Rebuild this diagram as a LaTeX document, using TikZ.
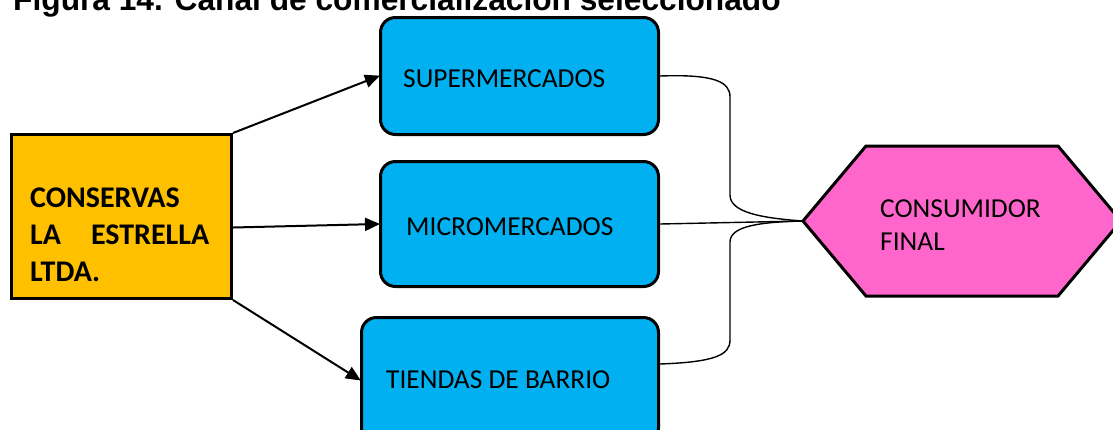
\documentclass[tikz,border=0pt]{standalone}
\usepackage{fontspec}
\setmainfont{Carlito}
\newfontfamily\titlefont{Liberation Sans}
\usetikzlibrary{arrows.meta}
\definecolor{orangebox}{HTML}{FFC000}
\definecolor{bluebox}{HTML}{00B0F0}
\definecolor{pinkbox}{HTML}{FF66CC}
\begin{document}
\begin{tikzpicture}[x=1pt,y=-1pt,
  box/.style={draw=black,line width=3pt,inner sep=0pt},
  chan/.style={box,fill=bluebox,rounded corners=15pt,minimum width=278pt,anchor=north west},
  lbl/.style={anchor=base west,inner sep=0pt,font=\fontsize{27.4}{33}\selectfont},
  blbl/.style={anchor=base west,inner sep=0pt,font=\bfseries\fontsize{30}{37}\selectfont},
  arr/.style={line width=2pt,-{Triangle[length=15pt,width=13pt]},shorten >=-1pt},
  link/.style={line width=1.4pt}]
\useasboundingbox (0,0) rectangle (1113,429);
% title (cut off by the page edge)
\node[anchor=base west,inner sep=0pt,font=\titlefont\bfseries\fontsize{31.7}{38}\selectfont] (title) at (13,10) {Figura 14. Canal de comercialización seleccionado};
% company
\node[box,fill=orangebox,minimum width=220pt,minimum height=164pt,anchor=north west] (org) at (10,133) {};
\node[blbl] (t1) at (30,207) {CONSERVAS};
\node[blbl] (t2) at (30,244) {\makebox[179pt][l]{LA\hfill ESTRELLA}};
\node[blbl] (t3) at (30,281) {LTDA.};
% channels
\node[chan,minimum height=117pt] (sup) at (379,16) {};
\node[chan,minimum height=125pt] (mic) at (379,160) {};
\node[chan,minimum width=297pt,minimum height=125pt] (tie) at (360,316) {};
\node[lbl] (supt) at (403,87) {SUPERMERCADOS};
\node[lbl] (mict) at (406,235) {MICROMERCADOS};
\node[lbl] (tiet) at (386,388) {TIENDAS DE BARRIO};
% final consumer
\coordinate (cons) at (803,221);
\draw[line width=3pt,fill=pinkbox,line join=miter] (cons) -- (866,146) -- (1058,146) -- (1121,221) -- (1058,296) -- (866,296) -- cycle;
\node[anchor=base west,inner sep=0pt,align=left,font=\fontsize{27.4}{33}\selectfont] (c1) at (880,217) {CONSUMIDOR};
\node[anchor=base west,inner sep=0pt,font=\fontsize{27.4}{33}\selectfont] (c2) at (880,250) {FINAL};
% arrows
\draw[arr] (org.north east) -- (sup.west);
\draw[arr] ([yshift=-11pt]org.east) -- (mic.west);
\draw[arr] (org.south east) -- (tie.west);
% links to consumer
\draw[link] (sup.east) .. controls (715,74) and (730,82) .. (730,97) -- (730,195) .. controls (730,212) and (760,218) .. (cons);
\draw[link] (mic.east) -- (cons);
\draw[link] ([yshift=16pt]tie.east) .. controls (715,362) and (730,355) .. (730,340) -- (730,242) .. controls (730,226) and (760,222) .. (cons);
\end{tikzpicture}
\end{document}
